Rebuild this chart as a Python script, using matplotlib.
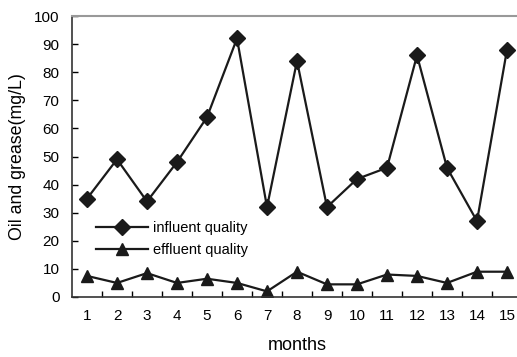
import matplotlib
matplotlib.use("Agg")
import matplotlib.pyplot as plt
from matplotlib.ticker import MultipleLocator, FixedLocator

plt.rcParams['font.family'] = ['Liberation Sans', 'DejaVu Sans']

months = list(range(1, 16))
influent = [35, 49, 34, 48, 64, 92, 32, 84, 32, 42, 46, 86, 46, 27, 88]
effluent = [7.5, 5, 8.5, 5, 6.5, 5, 2, 9, 4.5, 4.5, 8, 7.5, 5, 9, 9]

fig = plt.figure(figsize=(5.17, 3.57), dpi=100)
ax = fig.add_axes([72 / 517, 1 - 297 / 357, 450 / 517, 281 / 357])

ax.plot(months, influent, color='#1a1a1a', lw=1.6, marker='D', ms=8,
        label='influent quality')
ax.plot(months, effluent, color='#1a1a1a', lw=1.6, marker='^', ms=8,
        label='effluent quality')

ax.set_xlim(0.5, 15.5)
ax.set_ylim(0, 100)
ax.yaxis.set_major_locator(MultipleLocator(10))
ax.set_xticks(months)
ax.xaxis.set_minor_locator(FixedLocator([m + 0.5 for m in months[:-1]]))
ax.tick_params(axis='x', which='major', length=0, pad=9, labelsize=11)
ax.tick_params(axis='x', which='minor', direction='in', length=4, width=1)
ax.tick_params(axis='y', direction='in', length=4, width=1, labelsize=11, pad=9)

ax.spines['top'].set_color('#999999')
ax.spines['top'].set_linewidth(1.5)
ax.spines['right'].set_visible(False)
ax.spines['left'].set_color('#333333')
ax.spines['bottom'].set_color('#333333')
ax.spines['left'].set_linewidth(1.2)
ax.spines['bottom'].set_linewidth(1.2)

ax.set_xlabel('months', fontsize=13, labelpad=10)
ax.set_ylabel('Oil and grease(mg/L)', fontsize=12.8, labelpad=6)

ax.legend(loc='upper left', bbox_to_anchor=(0.04, 0.29), frameon=False,
          handlelength=3.6, fontsize=10.5, labelspacing=0.5, handletextpad=0.35,
          borderaxespad=0)

plt.savefig('out.png', dpi=100)
